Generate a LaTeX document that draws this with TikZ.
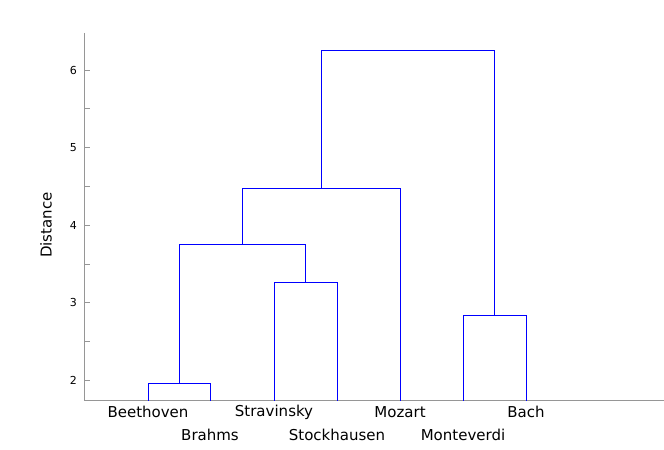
\documentclass[tikz,border=0pt]{standalone}
\usepackage{fontspec}
\setmainfont{DejaVu Sans}
\definecolor{linkblue}{RGB}{0,0,255}
\definecolor{axisgrey}{RGB}{150,150,150}
\begin{document}
\begin{tikzpicture}[x=1bp,y=-1bp,
  link/.style={color=linkblue,line width=1.25bp,line cap=rect},
  axisline/.style={color=axisgrey,line width=1bp},
  ticklab/.style={anchor=east,inner sep=0pt,text=black,font=\fontsize{11bp}{11bp}\selectfont},
  leaflab/.style={anchor=center,inner sep=0pt,text=black,font=\fontsize{15bp}{15bp}\selectfont}]
\useasboundingbox (0,0) rectangle (664,450);
% axes
\coordinate (ytop) at (84.5,33);
\coordinate (origin) at (84.5,400.5);
\coordinate (xend) at (664,400.5);
\draw[axisline] (ytop) -- (origin) -- (xend);
% ticks: y(v) = 380 - (v-2)*77.6
\foreach \v/\lab in {2/2,3/3,4/4,5/5,6/6} {
  \pgfmathsetmacro{\yy}{round(380-(\v-2)*77.6)+0.5}
  \draw[axisline] (84.5,\yy) -- (90,\yy);
  \node[ticklab] (t\v) at (77,\yy) {\lab};
}
\foreach \v in {2.5,3.5,4.5,5.5} {
  \pgfmathsetmacro{\yy}{round(380-(\v-2)*77.6)+0.5}
  \draw[axisline] (84.5,\yy) -- (90,\yy);
}
\node[rotate=90,font=\fontsize{15bp}{15bp}\selectfont,inner sep=0pt] (ylab) at (46,225) {Distance};
% leaves
\coordinate (lBe) at (148.5,400);
\coordinate (lBr) at (210.5,400);
\coordinate (lSv) at (274.5,400);
\coordinate (lSt) at (337.5,400);
\coordinate (lMz) at (400.5,400);
\coordinate (lMv) at (463.5,400);
\coordinate (lBa) at (526.5,400);
\coordinate (m1) at (179.5,383.5);
\coordinate (m2) at (305.5,282.5);
\coordinate (m3) at (242.5,244.5);
\coordinate (m4) at (321.5,188.5);
\coordinate (m5) at (494.5,315.5);
\coordinate (m6) at (408,50.5);
% merges
\draw[link] (lBe) |- (m1) -| (lBr);
\draw[link] (lSv) |- (m2) -| (lSt);
\draw[link] (m1) |- (m3) -| (m2);
\draw[link] (m3) |- (m4) -| (lMz);
\draw[link] (lMv) |- (m5) -| (lBa);
\draw[link] (m4) |- (m6) -| (m5);
% labels
\node[leaflab] (Be) at (148,412) {Beethoven};
\node[leaflab] (Br) at (210,435) {Brahms};
\node[leaflab] (Sv) at (274,412) {Stravinsky};
\node[leaflab] (St) at (337,435) {Stockhausen};
\node[leaflab] (Mz) at (400,412) {Mozart};
\node[leaflab] (Mv) at (463,435) {Monteverdi};
\node[leaflab] (Ba) at (526,412) {Bach};
\end{tikzpicture}
\end{document}
